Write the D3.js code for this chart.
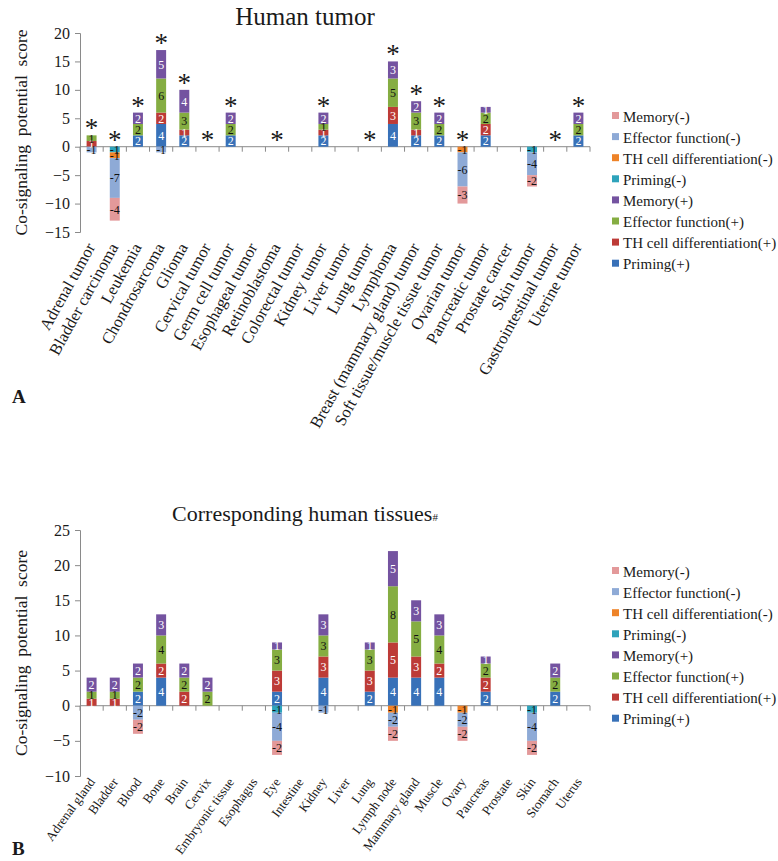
<!DOCTYPE html>
<html>
<head>
<meta charset="utf-8">
<script src="https://cdn.jsdelivr.net/npm/d3@7"></script>
<style>
  body { margin: 0; background: #fff; }
  svg text { font-family: "Liberation Serif", "Times New Roman", serif; fill: #1a1a1a; }
</style>
</head>
<body>
<svg id="chart" width="778" height="861"></svg>
<script>
// series, in stacking order (+ upward, - downward)
const seriesNames = ["Priming(+)", "TH cell differentiation(+)", "Effector function(+)", "Memory(+)",
                     "Priming(-)", "TH cell differentiation(-)", "Effector function(-)", "Memory(-)"];
const seriesColors = ["#3871b8", "#bd3b37", "#85ad42", "#7453a0",
                      "#2ea3bb", "#ee8328", "#8eaad6", "#e3999a"];
const labelColors = ["#fff", "#fff", "#111", "#fff", "#111", "#111", "#111", "#111"];

// A: human tumor
const tumorCats = ["Adrenal tumor", "Bladder carcinoma", "Leukemia", "Chondrosarcoma", "Glioma",
  "Cervical tumor", "Germ cell tumor", "Esophageal tumor", "Retinoblastoma", "Colorectal tumor",
  "Kidney tumor", "Liver tumor", "Lung tumor", "Lymphoma", "Breast (mammary gland) tumor",
  "Soft tissue/muscle tissue tumor", "Ovarian tumor", "Pancreatic tumor", "Prostate cancer",
  "Skin tumor", "Gastrointestinal tumor", "Uterine tumor"];
const tumorPrimingPos = [0, 0, 2, 4, 2, 0, 2, 0, 0, 0, 2, 0, 0, 4, 2, 2, 0, 2, 0, 0, 0, 2];
const tumorThPos      = [1, 0, 0, 2, 1, 0, 0, 0, 0, 0, 1, 0, 0, 3, 1, 0, 0, 2, 0, 0, 0, 0];
const tumorEffPos     = [1, 0, 2, 6, 3, 0, 2, 0, 0, 0, 1, 0, 0, 5, 3, 2, 0, 2, 0, 0, 0, 2];
const tumorMemPos     = [0, 0, 2, 5, 4, 0, 2, 0, 0, 0, 2, 0, 0, 3, 2, 2, 0, 1, 0, 0, 0, 2];
const tumorPrimingNeg = [0, -1, 0, 0, 0, 0, 0, 0, 0, 0, 0, 0, 0, 0, 0, 0, 0, 0, 0, -1, 0, 0];
const tumorThNeg      = [0, -1, 0, 0, 0, 0, 0, 0, 0, 0, 0, 0, 0, 0, 0, 0, -1, 0, 0, 0, 0, 0];
const tumorEffNeg     = [-1, -7, 0, -1, 0, 0, 0, 0, 0, 0, 0, 0, 0, 0, 0, 0, -6, 0, 0, -4, 0, 0];
const tumorMemNeg     = [0, -4, 0, 0, 0, 0, 0, 0, 0, 0, 0, 0, 0, 0, 0, 0, -3, 0, 0, -2, 0, 0];
const tumorStars      = [1, 1, 1, 1, 1, 1, 1, 0, 1, 0, 1, 0, 1, 1, 1, 1, 1, 0, 0, 0, 1, 1];
const tumorTicks      = [-15, -10, -5, 0, 5, 10, 15, 20];

// B: corresponding human tissues
const tissueCats = ["Adrenal gland", "Bladder", "Blood", "Bone", "Brain", "Cervix",
  "Embryonic tissue", "Esophagus", "Eye", "Intestine", "Kidney", "Liver", "Lung", "Lymph node",
  "Mammary gland", "Muscle", "Ovary", "Pancreas", "Prostate", "Skin", "Stomach", "Uterus"];
const tissuePrimingPos = [0, 0, 2, 4, 0, 0, 0, 0, 2, 0, 4, 0, 2, 4, 4, 4, 0, 2, 0, 0, 2, 0];
const tissueThPos      = [1, 1, 0, 2, 2, 0, 0, 0, 3, 0, 3, 0, 3, 5, 3, 2, 0, 2, 0, 0, 0, 0];
const tissueEffPos     = [1, 1, 2, 4, 2, 2, 0, 0, 3, 0, 3, 0, 3, 8, 5, 4, 0, 2, 0, 0, 2, 0];
const tissueMemPos     = [2, 2, 2, 3, 2, 2, 0, 0, 1, 0, 3, 0, 1, 5, 3, 3, 0, 1, 0, 0, 2, 0];
const tissuePrimingNeg = [0, 0, 0, 0, 0, 0, 0, 0, -1, 0, 0, 0, 0, 0, 0, 0, 0, 0, 0, -1, 0, 0];
const tissueThNeg      = [0, 0, 0, 0, 0, 0, 0, 0, 0, 0, 0, 0, 0, -1, 0, 0, -1, 0, 0, 0, 0, 0];
const tissueEffNeg     = [0, 0, -2, 0, 0, 0, 0, 0, -4, 0, -1, 0, 0, -2, 0, 0, -2, 0, 0, -4, 0, 0];
const tissueMemNeg     = [0, 0, -2, 0, 0, 0, 0, 0, -2, 0, 0, 0, 0, -2, 0, 0, -2, 0, 0, -2, 0, 0];
const tissueTicks      = [-10, -5, 0, 5, 10, 15, 20, 25];

const svg = d3.select("#chart");
svg.append("rect").attr("width", 778).attr("height", 861).attr("fill", "#fff");

const axisColor = "#8a8a8a";

const drawPanel = function(cfg) {
    const g = svg.append("g");

    const x = d3.scaleBand()
        .domain(cfg.cats)
        .range([80, 590])
        .paddingInner(0.57)
        .paddingOuter(0.285);
    const y = d3.scaleLinear()
        .domain(d3.extent(cfg.ticks))
        .range([cfg.yBottom, cfg.yTop]);

    // table rows for d3.stack
    const rows = cfg.cats.map((c, i) => {
        let r = {cat: c};
        seriesNames.forEach((s, j) => r[s] = cfg.values[j][i]);
        return r;
    });
    const layers = d3.stack()
        .keys(seriesNames)
        .offset(d3.stackOffsetDiverging)(rows);

    // title
    const title = g.append("text")
        .attr("x", 305)
        .attr("y", cfg.titleY)
        .attr("text-anchor", "middle")
        .attr("font-size", cfg.titleSize)
        .text(cfg.title);
    if (cfg.titleMark) {
        title.append("tspan").attr("font-size", 11).text(cfg.titleMark);
    }

    // y axis
    const yAxis = g.append("g")
        .attr("transform", "translate(80,0)")
        .call(d3.axisLeft(y).tickValues(cfg.ticks).tickSize(5).tickPadding(5).tickFormat(d3.format("d")));
    yAxis.select(".domain").attr("stroke", axisColor);
    yAxis.selectAll(".tick line").attr("stroke", axisColor);
    yAxis.selectAll(".tick text")
        .attr("font-family", "Liberation Serif, serif")
        .attr("font-size", 16)
        .attr("fill", "#222");

    g.append("text")
        .attr("transform", `translate(27,${(cfg.yTop + cfg.yBottom) / 2}) rotate(-90)`)
        .attr("text-anchor", "middle")
        .attr("font-size", 17.5)
        .attr("xml:space", "preserve")
        .text("Co-signaling  potential  score");

    // category axis at zero
    g.append("line")
        .attr("x1", 80).attr("x2", 590)
        .attr("y1", y(0)).attr("y2", y(0))
        .attr("stroke", axisColor);
    const gap = (x.step() - x.bandwidth()) / 2;
    g.selectAll(".xtick")
        .data(cfg.cats.concat([null]))
        .join("line")
        .attr("class", "xtick")
        .attr("x1", (d, i) => d ? x(d) - gap : x(cfg.cats[i - 1]) + x.bandwidth() + gap)
        .attr("x2", (d, i) => d ? x(d) - gap : x(cfg.cats[i - 1]) + x.bandwidth() + gap)
        .attr("y1", y(0)).attr("y2", y(0) + 5)
        .attr("stroke", axisColor);

    // stacked bars
    layers.forEach((layer, j) => {
        const segs = layer.filter(d => d[1] !== d[0]);
        g.selectAll(".bar-" + j)
            .data(segs)
            .join("rect")
            .attr("class", "bar-" + j)
            .attr("x", d => x(d.data.cat))
            .attr("width", x.bandwidth())
            .attr("y", d => y(Math.max(d[0], d[1])))
            .attr("height", d => Math.abs(y(d[0]) - y(d[1])))
            .attr("fill", seriesColors[j]);
    });
    layers.forEach((layer, j) => {
        const segs = layer.filter(d => d[1] !== d[0]);
        g.selectAll(".lab-" + j)
            .data(segs)
            .join("text")
            .attr("class", "lab-" + j)
            .attr("x", d => x(d.data.cat) + x.bandwidth() / 2)
            .attr("y", d => y((d[0] + d[1]) / 2))
            .attr("dy", "0.36em")
            .attr("text-anchor", "middle")
            .attr("font-family", "Lato, sans-serif")
            .attr("font-size", 12)
            .style("fill", labelColors[j])
            .text(d => d.data[layer.key]);
    });

    // significance stars
    if (cfg.stars) {
        g.selectAll(".star")
            .data(rows.filter((r, i) => cfg.stars[i]))
            .join("text")
            .attr("class", "star")
            .attr("x", d => x(d.cat) + x.bandwidth() / 2)
            .attr("y", d => y(Math.max(0, d3.sum(seriesNames.slice(0, 4), s => d[s]))) + 2)
            .attr("text-anchor", "middle")
            .attr("font-family", "Liberation Sans, sans-serif")
            .attr("font-size", 27)
            .text("*");
    }

    // rotated category labels
    g.selectAll(".xlab")
        .data(cfg.cats)
        .join("text")
        .attr("class", "xlab")
        .attr("transform", d => `translate(${x(d) + x.bandwidth() / 2 + 4},${cfg.yBottom + cfg.labGap}) rotate(${cfg.labAngle})`)
        .attr("text-anchor", "end")
        .attr("font-size", cfg.labSize)
        .text(d => d);

    // legend
    const legend = g.append("g")
        .attr("transform", `translate(612,${cfg.legendY})`);
    const items = legend.selectAll("g")
        .data(seriesNames.slice().reverse())
        .join("g")
        .attr("transform", (d, i) => `translate(0,${i * 21.1})`);
    items.append("rect")
        .attr("y", -5).attr("width", 7).attr("height", 7)
        .attr("fill", d => seriesColors[seriesNames.indexOf(d)]);
    items.append("text")
        .attr("x", 11).attr("y", 0).attr("dy", "0.3em")
        .attr("font-size", 15)
        .text(d => d);

    g.append("text")
        .attr("x", 12).attr("y", cfg.letterY)
        .attr("font-size", 19)
        .attr("font-weight", "bold")
        .text(cfg.letter);
};

drawPanel({
    title: "Human tumor",
    titleY: 25, titleSize: 25,
    cats: tumorCats,
    values: [tumorPrimingPos, tumorThPos, tumorEffPos, tumorMemPos,
             tumorPrimingNeg, tumorThNeg, tumorEffNeg, tumorMemNeg],
    ticks: tumorTicks,
    yTop: 33, yBottom: 232,
    stars: tumorStars,
    labGap: 15, labAngle: -61, labSize: 16.5,
    legendY: 117,
    letter: "A", letterY: 403
});

drawPanel({
    title: "Corresponding human tissues",
    titleMark: "#",
    titleY: 521, titleSize: 22,
    cats: tissueCats,
    values: [tissuePrimingPos, tissueThPos, tissueEffPos, tissueMemPos,
             tissuePrimingNeg, tissueThNeg, tissueEffNeg, tissueMemNeg],
    ticks: tissueTicks,
    yTop: 530, yBottom: 776,
    stars: null,
    labGap: 6, labAngle: -54, labSize: 13,
    legendY: 572,
    letter: "B", letterY: 855
});
</script>
</body>
</html>
